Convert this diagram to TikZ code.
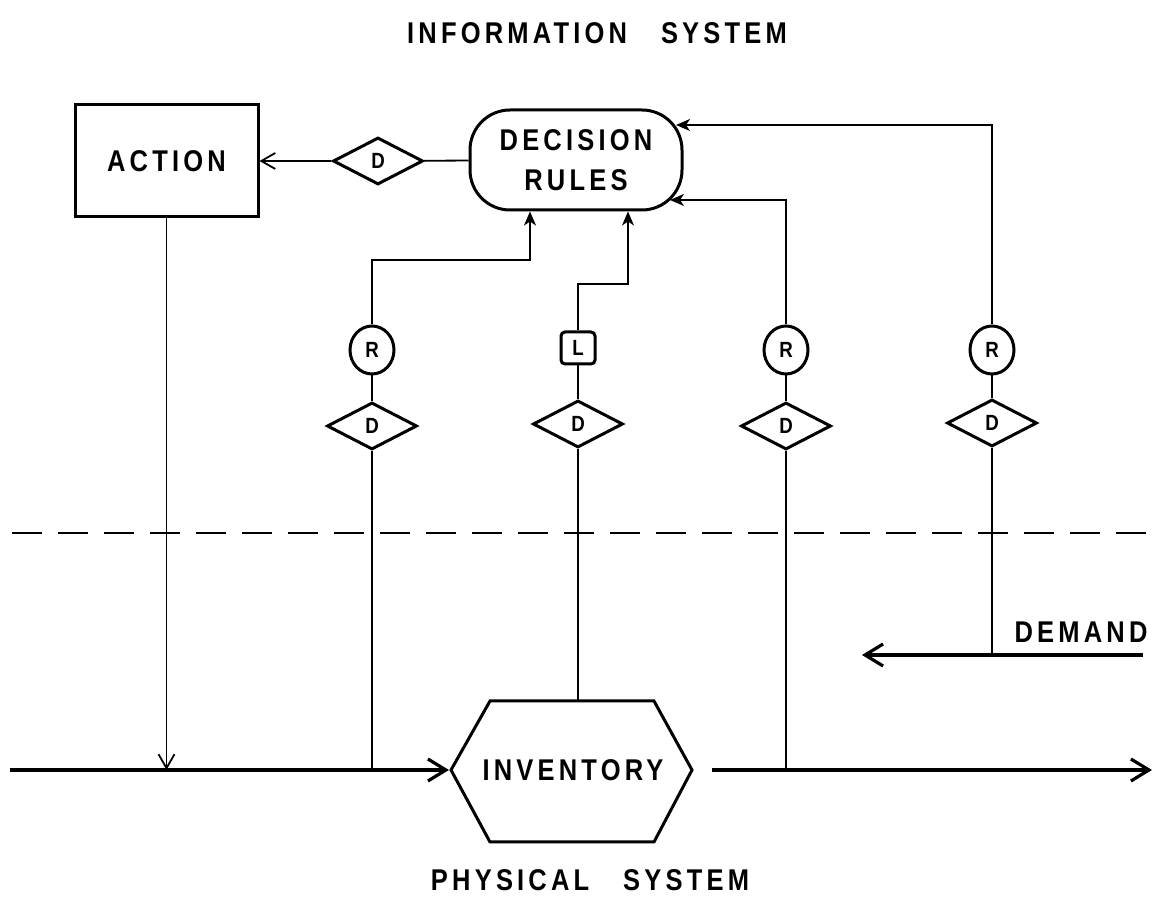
\documentclass[tikz,border=0pt]{standalone}
\usepackage{fontspec}
\newfontfamily\labfont{Liberation Sans}[FakeStretch=0.85,LetterSpace=14]
\usetikzlibrary{shapes.geometric,shapes.misc,arrows.meta}
\begin{document}
\begin{tikzpicture}[x=0.5pt,y=-0.5pt,
  txt/.style={font=\labfont\bfseries\fontsize{15}{19}\selectfont},
  smalltxt/.style={font=\labfont\bfseries\fontsize{11}{13}\selectfont},
  border/.style={draw,line width=1.5pt},
  thinline/.style={line width=0.9pt},
  flow/.style={line width=2pt,-{Straight Barb[length=9pt,width=11pt,line width=1.6pt]}},
  openarr/.style={thinline,-{Straight Barb[length=7pt,width=8pt,line width=0.9pt]}},
  inarr/.style={thinline,-{Stealth[length=7pt,width=6pt,inset=2pt]}},
  rbox/.style={border,ellipse,minimum width=22pt,minimum height=24pt,inner sep=0pt,smalltxt},
  dbox/.style={border,diamond,minimum width=45pt,minimum height=23.5pt,inner sep=0pt,aspect=2,smalltxt},
  lbox/.style={border,rectangle,rounded corners=2pt,minimum width=17pt,minimum height=16pt,inner sep=0pt,smalltxt}
]
\useasboundingbox (0,0) rectangle (1158,913);

% titles
\node[txt] (title) at (597,33) {INFORMATION\ \ \ SYSTEM};
\node[txt] (phys) at (590,880) {PHYSICAL\ \ \ SYSTEM};

% main nodes
\node[border,rectangle,minimum width=91.5pt,minimum height=56pt,txt] (action) at (166.5,161) {ACTION};
\node[dbox] (dD) at (378,161) {D};
\node[border,rectangle,rounded corners=20pt,minimum width=106pt,minimum height=50pt,align=center,txt,inner sep=2pt] (dr) at (576,160) {DECISION\\[1pt]RULES};

\node[rbox] (R1) at (372,350) {R};
\node[lbox] (L)  at (578,348) {L};
\node[rbox] (R3) at (786,350) {R};
\node[rbox] (R4) at (992,350) {R};

\node[dbox] (D1) at (372,426) {D};
\node[dbox] (D2) at (578,424) {D};
\node[dbox] (D3) at (786,426) {D};
\node[dbox] (D4) at (992,423) {D};

% inventory hexagon
\coordinate (invL) at (451,770);
\coordinate (invR) at (692,770);
\coordinate (invT) at (578,701);
\draw[line width=1.5pt,line join=miter] (invL) -- (490,701) -- (654,701) -- (invR) -- (654,842) -- (490,842) -- cycle;
\node[txt] (inv) at (573,770) {INVENTORY};

% dashed boundary
\draw[line width=1pt,dash pattern=on 15pt off 8pt] (12,533) coordinate (dashL) -- (1158,533) coordinate (dashR);

% physical flow
\coordinate (fL) at (10,770);
\coordinate (fS) at (712,770);
\coordinate (fE) at (1152,770);
\draw[flow,shorten >=1pt] (fL) -- (invL);
\draw[flow] (fS) -- (fE);

% action
\draw[openarr] (dD) -- (action);
\draw[thinline] (dr) -- (dD);
\coordinate (aB) at (166.5,770);
\draw[openarr] (action) -- (aB);

% information channels
\coordinate (b1) at (372,770);
\coordinate (k1) at (530,260);
\draw[thinline] (b1) -- (D1) -- (R1);
\draw[inarr] (R1) |- (k1) -- (k1 |- dr.south);

\coordinate (k2) at (628,284);
\draw[thinline] (invT) -- (D2) -- (L);
\draw[inarr] (L) |- (k2) -- (k2 |- dr.south);

\coordinate (b3) at (786,770);
\coordinate (k3) at (786,200);
\coordinate (e3) at (670,200);
\draw[thinline] (b3) -- (D3) -- (R3);
\draw[inarr] (R3) -- (k3) -- (e3);

\coordinate (b4) at (992,655);
\coordinate (k4) at (992,125);
\coordinate (e4) at (676,125);
\draw[thinline] (b4) -- (D4) -- (R4);
\draw[inarr] (R4) -- (k4) -- (e4);

% demand
\node[txt] (demand) at (1081,632) {DEMAND};
\coordinate (dE) at (1143,655);
\coordinate (dW) at (862,655);
\draw[flow] (dE) -- (dW);
\end{tikzpicture}
\end{document}
